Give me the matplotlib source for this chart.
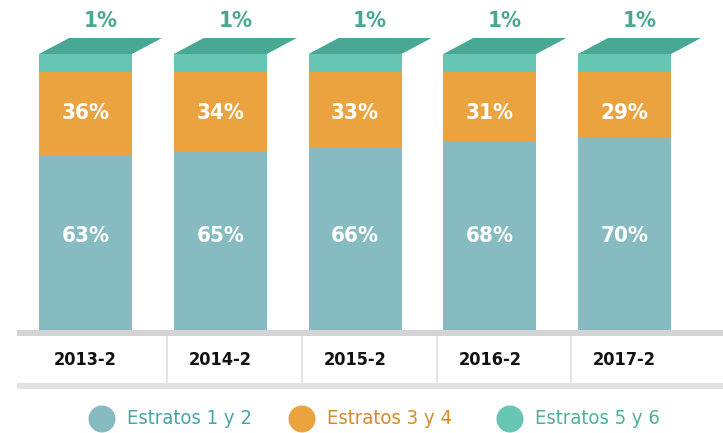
import matplotlib
matplotlib.use("Agg")
import matplotlib.pyplot as plt
from matplotlib.patches import Polygon, Rectangle, Circle
from matplotlib.font_manager import fontManager

# data
categories = ["2013-2", "2014-2", "2015-2", "2016-2", "2017-2"]
estratos_12 = [63, 65, 66, 68, 70]
estratos_34 = [36, 34, 33, 31, 29]
estratos_56 = [1, 1, 1, 1, 1]
legend_labels = ["Estratos 1 y 2", "Estratos 3 y 4", "Estratos 5 y 6"]

c12 = "#86bcc1"
c34 = "#eba33f"
c56 = "#66c5b3"
c56_top = "#48a893"
legend_text_colors = ["#4aa3ab", "#d48a2c", "#4fb09a"]

# use a condensed face if one is installed
cond = [f for f in fontManager.ttflist if "condensed" in str(f.stretch).lower()
        or "Condensed" in f.fname or "Narrow" in f.name]
if cond:
    fam = cond[0].name
    stretch = cond[0].stretch
    plt.rcParams["font.family"] = [fam, "DejaVu Sans"]
    plt.rcParams["font.stretch"] = stretch
    scale = 1.0
else:
    plt.rcParams["font.family"] = ["DejaVu Sans"]
    scale = 0.85

W, H = 723, 433
fig = plt.figure(figsize=(W / 100, H / 100), dpi=100)

# overlay in pixel coordinates for table lines and legend
ov = fig.add_axes([0, 0, 1, 1])
ov.set_xlim(0, W)
ov.set_ylim(H, 0)
ov.axis("off")

# main bar axes: y 0..100 maps to pixel 330..54
px_per_unit = 134.75
x0 = -85.5 / px_per_unit
ax = fig.add_axes([0, (H - 330) / H, 1, (330 - 54) / H])
ax.set_xlim(x0, x0 + W / px_per_unit)
ax.set_ylim(0, 100)
ax.axis("off")

top_disp = 6.5          # the 1% cap is drawn at a fixed visible height
bw = 93 / px_per_unit
dx, dy = 30 / px_per_unit, 16 / 2.76

for i, cat in enumerate(categories):
    a, b, c = estratos_12[i], estratos_34[i], estratos_56[i]
    orange_top = 100 - top_disp
    ax.bar(i, a, width=bw, color=c12, linewidth=0)
    ax.bar(i, orange_top - a, bottom=a, width=bw, color=c34, linewidth=0)
    ax.bar(i, top_disp, bottom=orange_top, width=bw, color=c56, linewidth=0)
    left, right = i - bw / 2, i + bw / 2
    ax.add_patch(Polygon([(left, 100), (left + dx, 100 + dy), (right + dx, 100 + dy), (right, 100)],
                         closed=True, color=c56_top, lw=0, clip_on=False))
    ax.text(i, 34, f"{a}%", ha="center", va="center", color="white",
            fontsize=16 * scale, fontweight="bold")
    ax.text(i, 78.5, f"{b}%", ha="center", va="center", color="white",
            fontsize=16 * scale, fontweight="bold")
    ax.text(i + dx / 2, 112, f"{c}%", ha="center", va="center", color=c56_top,
            fontsize=16 * scale, fontweight="bold", clip_on=False)

# table under bars
ov.add_patch(Rectangle((17, 330), W - 17, 6, color="#d4d4d6", lw=0))
ov.add_patch(Rectangle((17, 383), W - 17, 6, color="#e1e2e4", lw=0))
for xs in [167, 302, 437, 571]:
    ov.add_patch(Rectangle((xs - 1.2, 336), 2.4, 47, color="#e3e4e6", lw=0))
for i, cat in enumerate(categories):
    xc = (i - x0) * px_per_unit
    ov.text(xc, 360, cat, ha="center", va="center", fontsize=13 * scale,
            fontweight="bold", color="#111111")

# legend
leg_circles = [102, 302, 510]
leg_cols = [c12, c34, c56]
for cx, col, lab, tcol in zip(leg_circles, leg_cols, legend_labels, legend_text_colors):
    ov.add_patch(Circle((cx, 419), 13.5, color=col, lw=0))
    ov.text(cx + 25, 418, lab, ha="left", va="center", fontsize=14.5 * scale, color=tcol)

fig.savefig("out.png", dpi=100)
